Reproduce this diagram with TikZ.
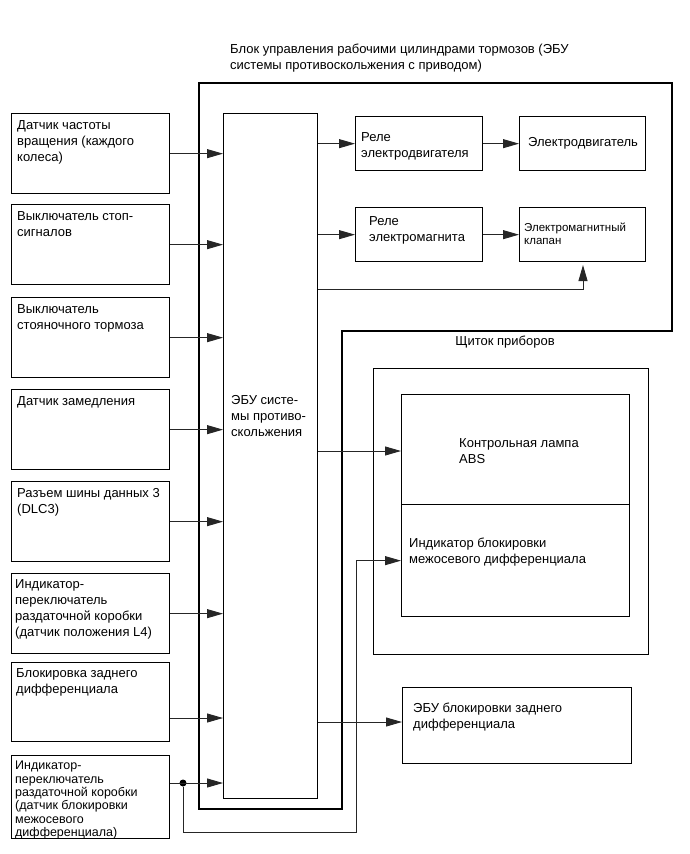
\documentclass[tikz,border=0pt]{standalone}
\usepackage{fontspec}
\setmainfont{Liberation Sans}
\usetikzlibrary{arrows.meta,positioning,calc}

\begin{document}
\begin{tikzpicture}[x=1pt, y=-1pt, >={Triangle[length=16pt,width=9pt]},
  blk/.style={draw, line width=1.3pt, anchor=north west, inner sep=0pt},
  lb/.style={blk, minimum width=158pt, minimum height=80pt},
  txt/.style={anchor=north west, align=left, inner sep=0pt, font=\fontsize{13}{16}\selectfont},
  frm/.style={draw, line width=1.4pt},
  dot/.style={circle, fill, inner sep=0pt, minimum size=7pt},
  e/.style={->, line width=0.9pt, draw=black!85}]
\useasboundingbox (0,0) rectangle (690,854);

% outer frame
\draw[frm] (199,83) -| (672,331) -| (342,809) -- (199,809) -- cycle;
\node[txt] (ttl) at (230,44) {Блок управления рабочими цилиндрами тормозов (ЭБУ\\системы противоскольжения с приводом)};

% inputs
\node[lb] (spd) at (11,113) {};
\node[txt] (spdT) at ([shift={(6,7)}]spd.north west) {Датчик частоты\\вращения (каждого\\колеса)};
\node[lb] (stp) at (11,204) {};
\node[txt] (stpT) at ([shift={(6,7)}]stp.north west) {Выключатель стоп-\\сигналов};
\node[lb] (prk) at (11,297) {};
\node[txt] (prkT) at ([shift={(6,7)}]prk.north west) {Выключатель\\стояночного тормоза};
\node[lb] (dcl) at (11,389) {};
\node[txt] (dclT) at ([shift={(6,7)}]dcl.north west) {Датчик замедления};
\node[lb] (dlc) at (11,481) {};
\node[txt] (dlcT) at ([shift={(6,7)}]dlc.north west) {Разъем шины данных 3\\(DLC3)};
\node[lb] (tf4) at (11,573) {};
\node[txt] (tf4T) at ([shift={(4,6)}]tf4.north west) {Индикатор-\\переключатель\\раздаточной коробки\\(датчик положения L4)};
\node[lb, minimum height=79pt] (rdl) at (11,662) {};
\node[txt] (rdlT) at ([shift={(5,6)}]rdl.north west) {Блокировка заднего\\дифференциала};
\node[lb, minimum height=83pt] (cdl) at (11,755) {};
\node[txt, font=\fontsize{12.5}{13.3}\selectfont] (cdlT) at ([shift={(4,6)}]cdl.north west) {Индикатор-\\переключатель\\раздаточной коробки\\(датчик блокировки\\межосевого\\дифференциала)};

% abs ecu
\node[blk, minimum width=94pt, minimum height=685pt] (ecu) at (223,113) {};
\node[txt] (ecuT) at ([shift={(8,282)}]ecu.north west) {ЭБУ систе-\\мы противо-\\скольжения};

% actuator side
\node[blk, minimum width=127pt, minimum height=54pt] (rmo) at (355,116) {};
\node[txt] (rmoT) at ([shift={(6,16)}]rmo.north west) {Реле\\электродвигателя};
\node[blk, minimum width=126pt, minimum height=54pt] (mot) at (519,116) {};
\node[txt] (motT) at ([shift={(9,21)}]mot.north west) {Электродвигатель};
\node[blk, minimum width=127pt, minimum height=54pt] (rsl) at (355,207) {};
\node[txt] (rslT) at ([shift={(14,9)}]rsl.north west) {Реле\\электромагнита};
\node[blk, minimum width=126pt, minimum height=54pt] (sol) at (519,207) {};
\node[txt, font=\fontsize{11.5}{13}\selectfont] (solT) at ([shift={(5,16)}]sol.north west) {Электромагнитный\\клапан};

% combination meter
\node[blk, minimum width=275pt, minimum height=286pt] (cmb) at (373,368) {};
\node[txt, anchor=center] (cmbT) at (505,342) {Щиток приборов};
\node[blk, minimum width=228pt, minimum height=110pt] (abs) at (401,394) {};
\node[txt] (absT) at ([shift={(58,44)}]abs.north west) {Контрольная лампа\\ABS};
\node[blk, minimum width=228pt, minimum height=112pt] (ind) at (401,504) {};
\node[txt] (indT) at ([shift={(8,34)}]ind.north west) {Индикатор блокировки\\межосевого дифференциала};

\node[blk, minimum width=229pt, minimum height=76pt] (rld) at (402,687) {};
\node[txt] (rldT) at ([shift={(11,16)}]rld.north west) {ЭБУ блокировки заднего\\дифференциала};

% inputs to ecu
\foreach \s in {spd,stp,prk,dcl,dlc,tf4}
  \draw[e] (\s.east) -- (\s.east -| ecu.west);
\coordinate (rdlo) at ($(rdl.north east)+(0,56)$);
\draw[e] (rdlo) -- (rdlo -| ecu.west);
\coordinate (cdlo) at ($(cdl.north east)+(0,28)$);
\node[dot] (jn) at (183,783) {};
\draw[e] (cdlo) -- (cdlo -| ecu.west);

% ecu outputs
\draw[e] (ecu.east |- rmo.west) -- (rmo.west);
\draw[e] (rmo) -- (mot);
\draw[e] (ecu.east |- rsl.west) -- (rsl.west);
\draw[e] (rsl) -- (sol);
\coordinate (fbo) at ($(ecu.north east)+(0,176)$);
\coordinate (fb) at (583,265);
\draw[e] (fbo) -| (fb);
\draw[e] (ecu.east |- 0,451) -- (abs.west |- 0,451);
\coordinate (rldo) at ($(ecu.north east)+(0,609)$);
\draw[e] (rldo) -- (rldo -| rld.west);

% center diff lock feed
\coordinate (lp) at (356,832);
\draw[e] (jn) |- (lp) |- (ind.west);
\end{tikzpicture}
\end{document}
